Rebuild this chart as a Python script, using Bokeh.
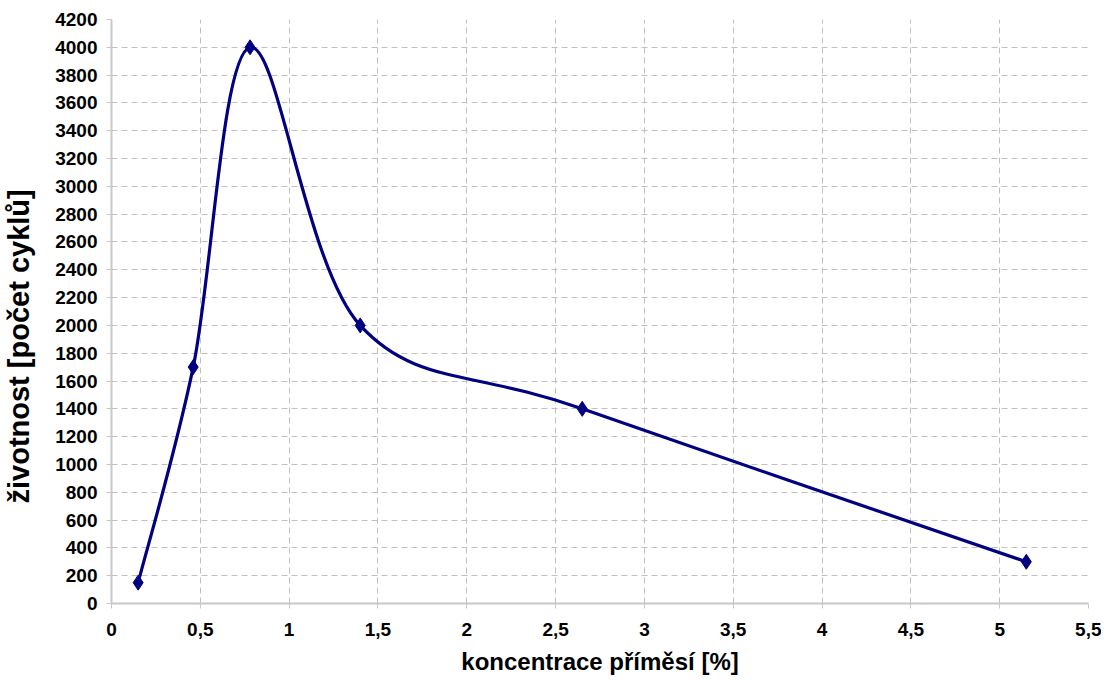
from bokeh.plotting import figure
from bokeh.models import FixedTicker, Range1d, ColumnDataSource, Title
from bokeh.embed import file_html
from bokeh.resources import INLINE

# data
konc = [0.15, 0.46, 0.78, 1.40, 2.65, 5.15]
zivot = [150, 1700, 4000, 2000, 1400, 300]

x_ticks = [0, 0.5, 1, 1.5, 2, 2.5, 3, 3.5, 4, 4.5, 5, 5.5]
x_labels = ["0", "0,5", "1", "1,5", "2", "2,5", "3", "3,5", "4", "4,5", "5", "5,5"]
y_ticks = list(range(0, 4201, 200))

COL = "#000080"
FONT = "Liberation Sans"

p = figure(width=1101, height=681, output_backend="svg", toolbar_location=None,
           x_range=Range1d(0, 5.5), y_range=Range1d(0, 4200),
           min_border_left=111, min_border_right=13, min_border_top=19, min_border_bottom=78)
p.outline_line_color = None

# smooth (Excel-like) curve: cubic Bezier segments with Catmull-Rom control points
n = len(konc)
x0, y0, x1, y1, cx0, cy0, cx1, cy1 = [], [], [], [], [], [], [], []
for i in range(n - 1):
    pm = max(i - 1, 0)
    pp = min(i + 2, n - 1)
    x0.append(konc[i]); y0.append(zivot[i])
    x1.append(konc[i + 1]); y1.append(zivot[i + 1])
    cx0.append(konc[i] + (konc[i + 1] - konc[pm]) / 6)
    cy0.append(zivot[i] + (zivot[i + 1] - zivot[pm]) / 6)
    cx1.append(konc[i + 1] - (konc[pp] - konc[i]) / 6)
    cy1.append(zivot[i + 1] - (zivot[pp] - zivot[i]) / 6)
src = ColumnDataSource(dict(x0=x0, y0=y0, x1=x1, y1=y1, cx0=cx0, cy0=cy0, cx1=cx1, cy1=cy1))
p.bezier("x0", "y0", "x1", "y1", "cx0", "cy0", "cx1", "cy1", source=src,
         line_color=COL, line_width=3.2)
p.scatter(konc, zivot, marker="diamond", size=15, fill_color=COL, line_color=COL)

# axes
p.xaxis.ticker = FixedTicker(ticks=x_ticks)
p.xaxis.major_label_overrides = {t: l for t, l in zip(x_ticks, x_labels)}
p.yaxis.ticker = FixedTicker(ticks=y_ticks)
for ax in (p.xaxis[0], p.yaxis[0]):
    ax.axis_line_color = "#c8c8c8"
    ax.axis_line_width = 2
    ax.major_tick_line_color = "#c8c8c8"
    ax.major_tick_in = 0
    ax.major_tick_out = 5
    ax.minor_tick_line_color = None
    ax.major_label_text_font = FONT
    ax.major_label_text_font_style = "bold"
    ax.major_label_text_font_size = "19px"
    ax.major_label_text_color = "black"
    ax.axis_label_text_font = FONT
    ax.axis_label_text_font_style = "bold"
    ax.axis_label_text_color = "black"
p.xaxis.axis_label = "koncentrace příměsí [%]"
p.xaxis.axis_label_text_font_size = "24px"
p.xaxis.major_label_standoff = 14
p.xaxis.axis_label_standoff = 9
p.yaxis.major_label_standoff = 9
# blank spacer label between tick labels and the rotated title
p.yaxis.axis_label = " "
p.yaxis.axis_label_text_font_size = "10px"
p.yaxis.axis_label_standoff = 3

ytitle = Title(text="životnost [počet cyklů]", align="left", offset=100,
               text_font=FONT, text_font_style="bold", text_font_size="29px",
               text_color="black", standoff=1)
p.add_layout(ytitle, "left")

p.xgrid.ticker = FixedTicker(ticks=x_ticks)
p.ygrid.ticker = FixedTicker(ticks=y_ticks)
for g in (p.xgrid[0], p.ygrid[0]):
    g.grid_line_color = "#c0c0c0"
    g.grid_line_dash = "6 4"
    g.grid_line_width = 1

open("out.html", "w").write(file_html(p, INLINE))
